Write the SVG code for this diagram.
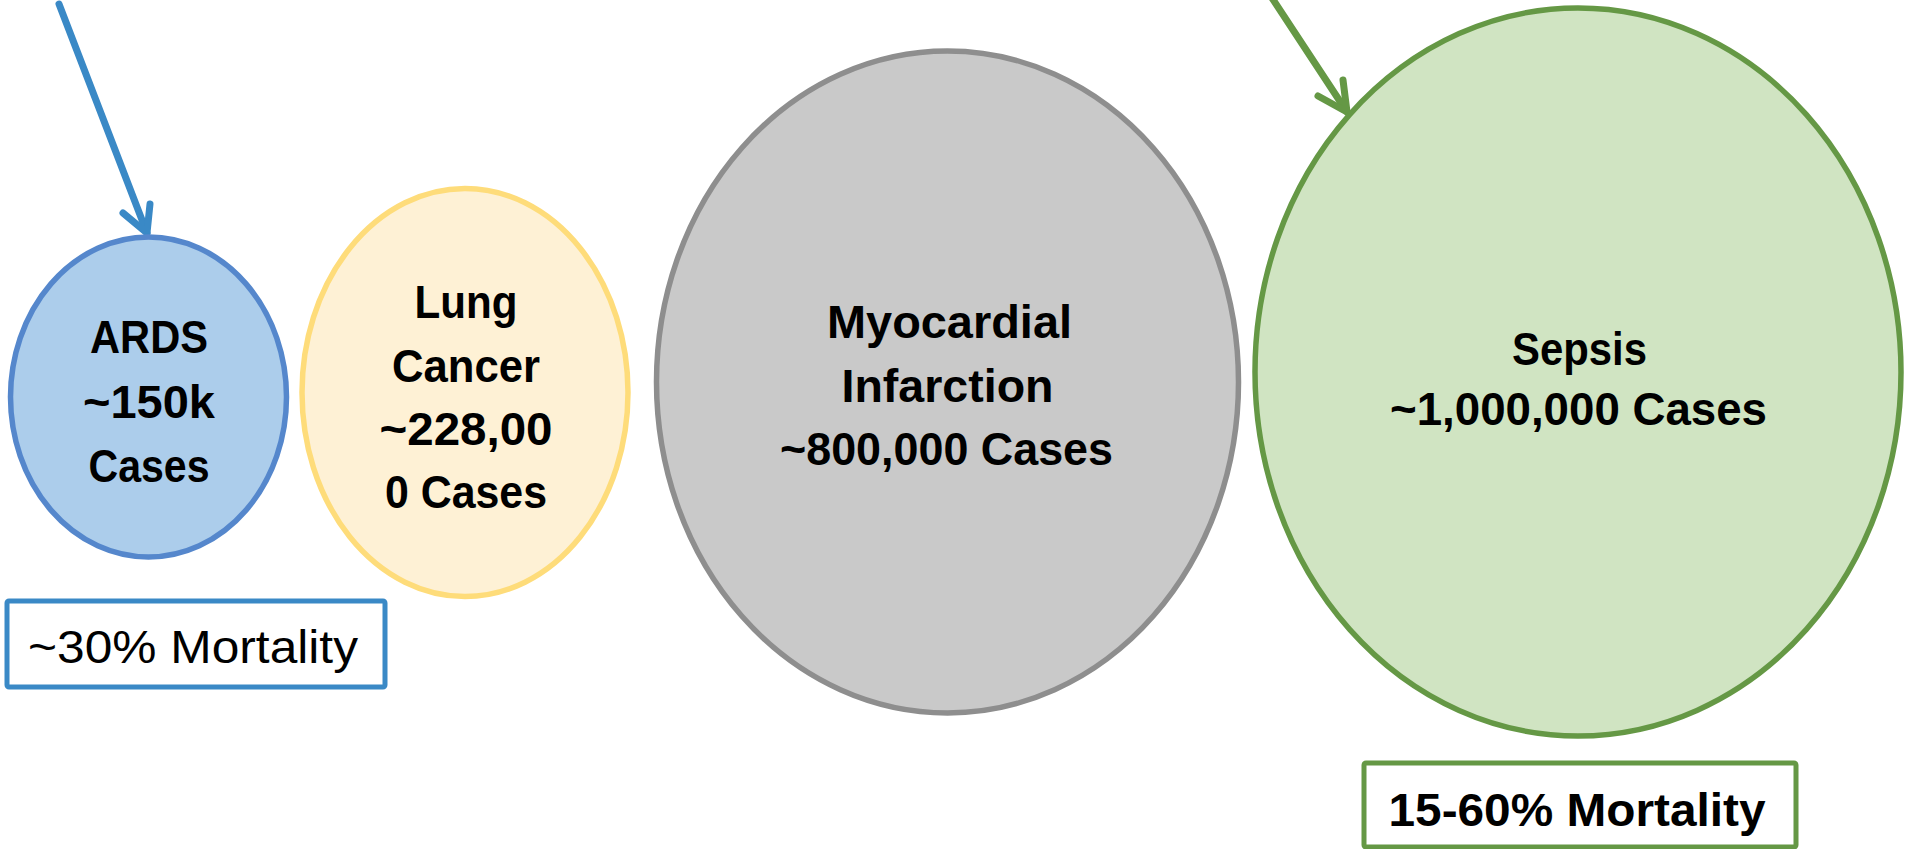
<svg xmlns="http://www.w3.org/2000/svg" width="1905" height="849" viewBox="0 0 1905 849">
<style>
  .lbl { font-family: "Liberation Sans", Arial, sans-serif; font-weight: bold; font-size: 47px; fill: #000; text-anchor: middle; }
  .reg { font-family: "Liberation Sans", Arial, sans-serif; font-size: 46px; fill: #000; }
  .arrow { fill: none; stroke-width: 7; stroke-linecap: round; stroke-linejoin: round; }
</style>
<rect width="1905" height="849" fill="#ffffff"/>
<g id="connectors">
  <g id="arrow-ards" class="arrow" stroke="#3A89C6">
    <line x1="59" y1="4" x2="147" y2="233"/>
    <polyline points="123,213 147,233 150,204"/>
  </g>
  <g id="arrow-sepsis" class="arrow" stroke="#659845">
    <line x1="1272" y1="-2" x2="1347" y2="112"/>
    <polyline points="1318,96 1347,112 1343,80"/>
  </g>
</g>
<g id="node-ards">
  <ellipse cx="148.5" cy="397" rx="138" ry="160" fill="#ACCDEB" stroke="#5587CC" stroke-width="5.5"/>
  <text class="lbl" x="149" y="353" textLength="118" lengthAdjust="spacingAndGlyphs">ARDS</text>
  <text class="lbl" x="149" y="418" textLength="132" lengthAdjust="spacingAndGlyphs">~150k</text>
  <text class="lbl" x="149" y="482" textLength="121" lengthAdjust="spacingAndGlyphs">Cases</text>
</g>
<g id="node-lung">
  <ellipse cx="465" cy="392.5" rx="163" ry="204" fill="#FEF1D5" stroke="#FEDC7A" stroke-width="5.5"/>
  <text class="lbl" x="466" y="318" textLength="103" lengthAdjust="spacingAndGlyphs">Lung</text>
  <text class="lbl" x="466" y="382" textLength="148" lengthAdjust="spacingAndGlyphs">Cancer</text>
  <text class="lbl" x="466" y="445" textLength="173" lengthAdjust="spacingAndGlyphs">~228,00</text>
  <text class="lbl" x="466" y="508" textLength="162" lengthAdjust="spacingAndGlyphs">0 Cases</text>
</g>
<g id="node-mi">
  <ellipse cx="947.5" cy="382" rx="291" ry="331" fill="#C9C9C9" stroke="#8E8E8E" stroke-width="5.5"/>
  <text class="lbl" x="949.5" y="338" textLength="245" lengthAdjust="spacingAndGlyphs">Myocardial</text>
  <text class="lbl" x="947.5" y="402" textLength="212" lengthAdjust="spacingAndGlyphs">Infarction</text>
  <text class="lbl" x="946.5" y="465" textLength="333" lengthAdjust="spacingAndGlyphs">~800,000 Cases</text>
</g>
<g id="node-sepsis">
  <ellipse cx="1578" cy="372" rx="323" ry="364" fill="#D0E4C2" stroke="#659845" stroke-width="5.5"/>
  <text class="lbl" x="1579.5" y="365" textLength="135" lengthAdjust="spacingAndGlyphs">Sepsis</text>
  <text class="lbl" x="1578.5" y="425" textLength="377" lengthAdjust="spacingAndGlyphs">~1,000,000 Cases</text>
</g>
<g id="box-ards-mortality">
  <rect x="7" y="601" width="378" height="86" rx="2" fill="#ffffff" stroke="#3A89C6" stroke-width="5"/>
  <text class="reg" x="28" y="663" textLength="330" lengthAdjust="spacingAndGlyphs">~30% Mortality</text>
</g>
<g id="box-sepsis-mortality">
  <rect x="1364" y="763" width="432" height="84" rx="2" fill="#ffffff" stroke="#659845" stroke-width="5"/>
  <text class="lbl" x="1577" y="826" font-size="49" textLength="377" lengthAdjust="spacingAndGlyphs">15-60% Mortality</text>
</g>
</svg>
